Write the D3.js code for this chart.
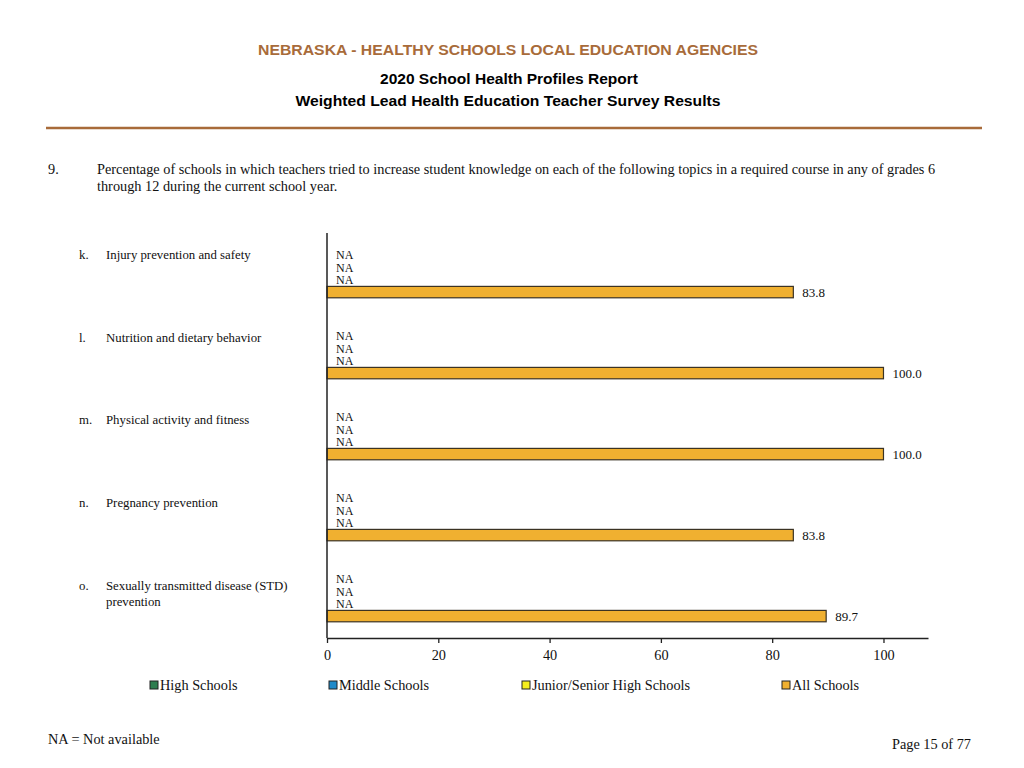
<!DOCTYPE html>
<html>
<head>
<meta charset="utf-8">
<script src="https://cdn.jsdelivr.net/npm/d3@7"></script>
<style>
  body { margin: 0; background: #fff; }
  svg { display: block; }
</style>
</head>
<body>
<div id="chart"></div>
<script>
// data
const topicLetters = ["k.", "l.", "m.", "n.", "o."];
const topicLabels = [
  ["Injury prevention and safety"],
  ["Nutrition and dietary behavior"],
  ["Physical activity and fitness"],
  ["Pregnancy prevention"],
  ["Sexually transmitted disease (STD)", "prevention"]
];
const seriesNames = ["High Schools", "Middle Schools", "Junior/Senior High Schools", "All Schools"];
const seriesColors = ["#2e7d4f", "#1f8ac9", "#f5ee1e", "#f0b030"];
const highSchools = [null, null, null, null, null];
const middleSchools = [null, null, null, null, null];
const juniorSenior = [null, null, null, null, null];
const allSchools = [83.8, 100.0, 100.0, 83.8, 89.7];
const xTicks = [0, 20, 40, 60, 80, 100];

const W = 1024, H = 768;
const serif = "'Liberation Serif', 'Times New Roman', serif";
const sans = "'Liberation Sans', Arial, sans-serif";
const brown = "#a86b3a";

const svg = d3.select("#chart").append("svg")
  .attr("width", W)
  .attr("height", H)
  .attr("viewBox", `0 0 ${W} ${H}`);

// header
svg.append("text")
  .attr("x", 508).attr("y", 55)
  .attr("text-anchor", "middle")
  .attr("textLength", 500).attr("lengthAdjust", "spacingAndGlyphs")
  .style("font-family", sans).style("font-weight", "bold").style("font-size", "14.5px")
  .style("fill", brown)
  .text("NEBRASKA - HEALTHY SCHOOLS LOCAL EDUCATION AGENCIES");

svg.append("text")
  .attr("x", 509).attr("y", 84)
  .attr("text-anchor", "middle")
  .attr("textLength", 258).attr("lengthAdjust", "spacingAndGlyphs")
  .style("font-family", sans).style("font-weight", "bold").style("font-size", "14.5px")
  .text("2020 School Health Profiles Report");

svg.append("text")
  .attr("x", 508).attr("y", 106)
  .attr("text-anchor", "middle")
  .attr("textLength", 425).attr("lengthAdjust", "spacingAndGlyphs")
  .style("font-family", sans).style("font-weight", "bold").style("font-size", "14.5px")
  .text("Weighted Lead Health Education Teacher Survey Results");

svg.append("line")
  .attr("x1", 46).attr("x2", 982)
  .attr("y1", 128).attr("y2", 128)
  .attr("stroke", brown).attr("stroke-width", 2.5);

// question text
const q = svg.append("g")
  .style("font-family", serif).style("font-size", "14.3px").style("fill", "#111");
q.append("text").attr("x", 48).attr("y", 174).text("9.");
q.append("text").attr("x", 97).attr("y", 174)
  .text("Percentage of schools in which teachers tried to increase student knowledge on each of the following topics in a required course in any of grades 6");
q.append("text").attr("x", 97).attr("y", 191)
  .text("through 12 during the current school year.");

// scales
const x = d3.scaleLinear()
  .domain([0, 108])
  .range([327, 928]);

const yGroup = d3.scaleBand()
  .domain(d3.range(topicLetters.length))
  .range([233, 638]);

const ySeries = d3.scaleBand()
  .domain(seriesNames)
  .range([yGroup.bandwidth() * 0.2, yGroup.bandwidth() * 0.8])
  .paddingInner(0.08);

const seriesValues = [highSchools, middleSchools, juniorSenior, allSchools];

// flat list of cells: one per topic per series
const cells = [];
topicLetters.forEach((t, i) => {
  seriesNames.forEach((s, j) => {
    cells.push({ topic: i, series: s, color: seriesColors[j], value: seriesValues[j][i] });
  });
});

// topic labels (the pdf spreads them a touch wider than the bar groups)
const topics = svg.append("g")
  .selectAll("g")
  .data(topicLetters)
  .join("g")
  .attr("transform", (d, i) => `translate(0, ${yGroup(i) + ySeries(seriesNames[0]) + ySeries.bandwidth() / 2 + 3 + i * 1.6})`)
  .style("font-family", serif).style("font-size", "12.8px").style("fill", "#111");

topics.append("text")
  .attr("x", 79).attr("y", 0).attr("dy", "0.1em")
  .text(d => d);

topics.each(function (d, i) {
  d3.select(this).selectAll("text.lbl")
    .data(topicLabels[i])
    .join("text")
    .attr("class", "lbl")
    .attr("x", 106)
    .attr("y", (l, k) => k * 16)
    .attr("dy", "0.1em")
    .text(l => l);
});

// bars
const barG = svg.append("g");
barG.selectAll("rect")
  .data(cells.filter(c => c.value != null))
  .join("rect")
  .attr("x", x(0))
  .attr("y", d => yGroup(d.topic) + ySeries(d.series))
  .attr("width", d => x(d.value) - x(0))
  .attr("height", ySeries.bandwidth())
  .attr("fill", d => d.color)
  .attr("stroke", "#3b3323")
  .attr("stroke-width", 1.2);

// value / NA labels
barG.selectAll("text")
  .data(cells)
  .join("text")
  .attr("x", d => (d.value == null ? x(0) : x(d.value)) + 9)
  .attr("y", d => yGroup(d.topic) + ySeries(d.series) + ySeries.bandwidth() / 2)
  .attr("dy", "0.36em")
  .style("font-family", serif)
  .style("font-size", d => d.value == null ? "12px" : "13px")
  .style("fill", "#111")
  .text(d => d.value == null ? "NA" : d.value.toFixed(1));

// axes
const xAxis = svg.append("g")
  .attr("transform", `translate(0, ${yGroup.range()[1]})`)
  .call(d3.axisBottom(x).tickValues(xTicks).tickSize(5).tickSizeOuter(0).tickPadding(7));
xAxis.select(".domain").attr("stroke", "#222").attr("stroke-width", 1.5);
xAxis.selectAll(".tick line").attr("stroke", "#222").attr("stroke-width", 1.3);
xAxis.selectAll(".tick text")
  .style("font-family", serif).style("font-size", "14.3px").style("fill", "#111");

svg.append("line")
  .attr("x1", x(0)).attr("x2", x(0))
  .attr("y1", yGroup.range()[0]).attr("y2", yGroup.range()[1])
  .attr("stroke", "#222").attr("stroke-width", 1.5);

// legend
const legendX = [150, 329, 522, 782];
const legend = svg.append("g")
  .selectAll("g")
  .data(seriesNames)
  .join("g")
  .attr("transform", (d, i) => `translate(${legendX[i]}, 681)`);

legend.append("rect")
  .attr("width", 8).attr("height", 8)
  .attr("fill", (d, i) => seriesColors[i])
  .attr("stroke", "#222").attr("stroke-width", 1);

legend.append("text")
  .attr("x", 10).attr("y", 4).attr("dy", "0.36em")
  .style("font-family", serif).style("font-size", "14.3px").style("fill", "#111")
  .text(d => d);

// footer
svg.append("text")
  .attr("x", 48).attr("y", 744)
  .style("font-family", serif).style("font-size", "14.3px").style("fill", "#111")
  .text("NA = Not available");

svg.append("text")
  .attr("x", 971).attr("y", 749)
  .attr("text-anchor", "end")
  .style("font-family", serif).style("font-size", "14.3px").style("fill", "#111")
  .text("Page 15 of 77");
</script>
</body>
</html>
